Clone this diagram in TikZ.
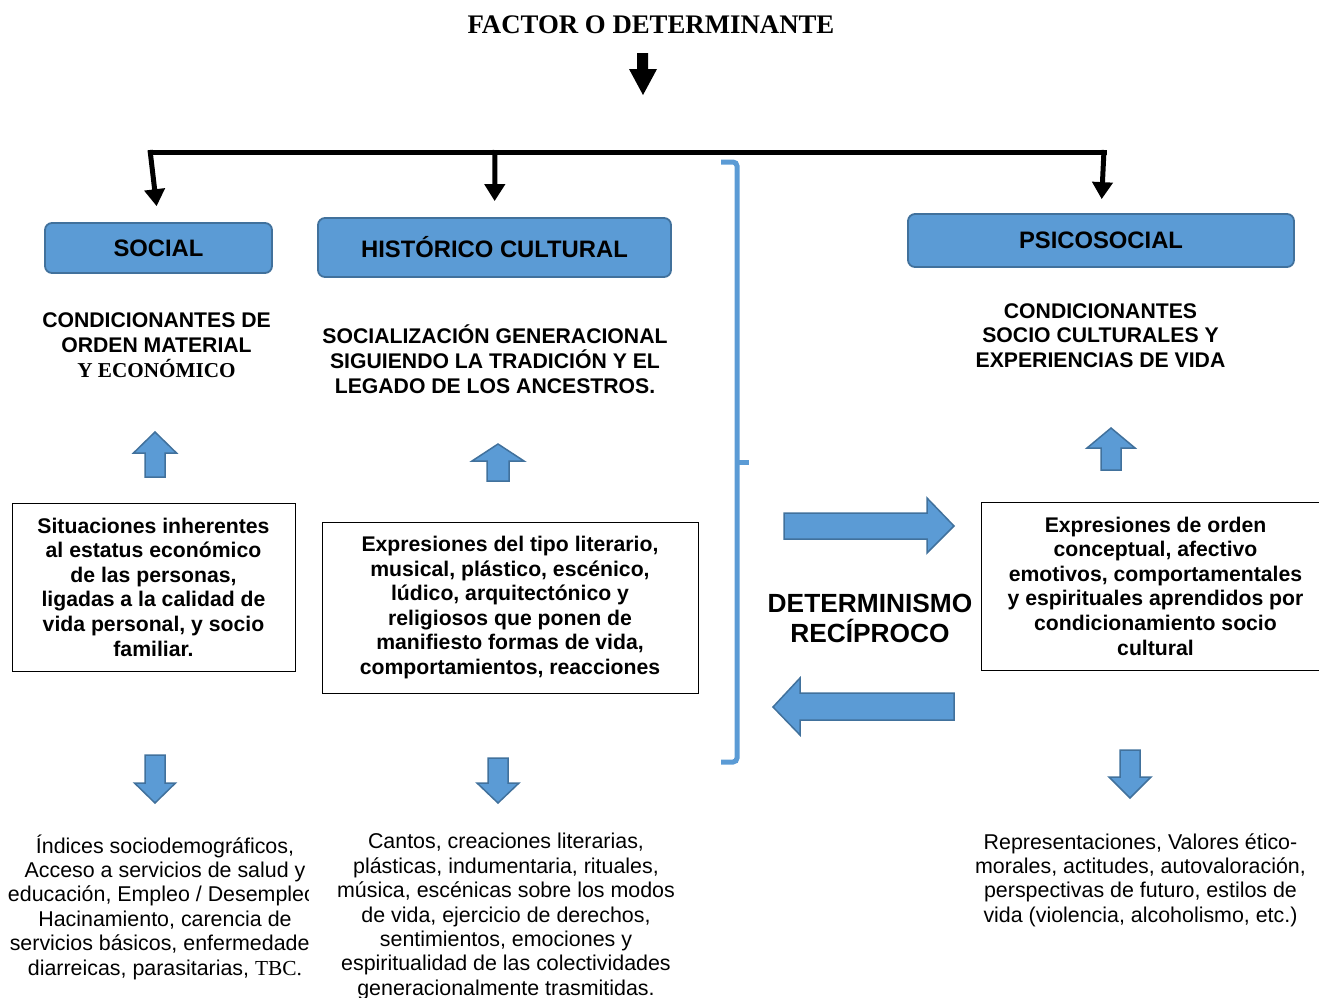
\documentclass[tikz,border=0pt]{standalone}
\usepackage{fontspec}
\setmainfont{Liberation Sans}
\newfontfamily\tnr{Liberation Serif}
\usetikzlibrary{arrows.meta}
\definecolor{bfill}{HTML}{5B9BD5}
\definecolor{bdraw}{HTML}{41719C}
\newcommand{\upblk}[6]{\path[barrow] (#1,#2) -- ({#1+#4},{#2+#5}) -- ({#1+#6},{#2+#5}) -- ({#1+#6},#3) -- ({#1-#6},#3) -- ({#1-#6},{#2+#5}) -- ({#1-#4},{#2+#5}) -- cycle;}
\newcommand{\downblk}[6]{\path[barrow] (#1,#2) -- ({#1+#4},{#2-#5}) -- ({#1+#6},{#2-#5}) -- ({#1+#6},#3) -- ({#1-#6},#3) -- ({#1-#6},{#2-#5}) -- ({#1-#4},{#2-#5}) -- cycle;}
\begin{document}
\begin{tikzpicture}[x=1pt,y=-1pt,
  headbox/.style={draw=bdraw, fill=bfill, line width=1.8pt, rounded corners=7pt, inner sep=0pt, font=\fontsize{23.8}{28}\selectfont\bfseries},
  subtxt/.style={align=center, inner sep=0pt, font=\fontsize{21.2}{25}\selectfont\bfseries},
  tbox/.style={draw, line width=1pt, align=center, inner sep=0pt, font=\fontsize{21.2}{24.6}\selectfont\bfseries},
  bodytxt/.style={align=center, inner sep=0pt, font=\fontsize{21.4}{24.4}\selectfont},
  barrow/.style={draw=bdraw, fill=bfill, line width=1.5pt, line join=miter},
  tree/.style={line width=5pt, black},
  treearrow/.style={tree, -{Triangle[length=17pt,width=20pt]}},
  bracket/.style={draw=bfill, line width=5pt}
]
\useasboundingbox (0,0) rectangle (1319,997);

% title
\node[inner sep=0pt, font=\tnr\fontsize{26.8}{30}\selectfont\bfseries] (title) at (651,25) {FACTOR O DETERMINANTE};
\path[fill=black] (637,53) -- (648,53) -- (648,69) -- (657,69) -- (643,95) -- (629,69) -- (637,69) -- cycle;

% headers
\node[headbox, minimum width=227pt, minimum height=50pt] (social) at (158.5,248) {\raisebox{-1.5pt}{SOCIAL}};
\node[headbox, minimum width=353pt, minimum height=59pt] (hist) at (494.5,247.5) {HISTÓRICO CULTURAL};
\node[headbox, minimum width=386pt, minimum height=53pt] (psico) at (1101,240.5) {PSICOSOCIAL};

% tree
\coordinate (jl) at (148,152);
\coordinate (jr) at (1106.5,152);
\coordinate (l1) at (150,150);
\coordinate (l2) at (495,150);
\coordinate (l3) at (1104,150);
\draw[tree] (jl) -- (jr);
\draw[treearrow, shorten >=16pt] (l1) -- (social.north);
\draw[treearrow, shorten >=16pt] (l2) -- (hist.north);
\draw[treearrow, shorten >=14pt] (l3) -- (psico.north);

% subtitles
\node[subtxt] (s1) at (156.5,345) {CONDICIONANTES DE\\ORDEN MATERIAL\\{\tnr Y ECONÓMICO}};
\node[subtxt] (s2) at (495,359) {SOCIALIZACIÓN GENERACIONAL\\SIGUIENDO LA TRADICIÓN Y EL\\LEGADO DE LOS ANCESTROS.};
\node[subtxt, font=\fontsize{21.2}{24.5}\selectfont\bfseries] (s3) at (1100.5,335.5) {CONDICIONANTES\\SOCIO CULTURALES Y\\EXPERIENCIAS DE VIDA};

% up arrows
\upblk{155}{432}{477}{21.5}{21}{10}
\upblk{498}{444}{481}{26}{17}{11}
\upblk{1111}{428}{470}{24}{20}{10}

% text boxes
\node[tbox, minimum width=283pt, minimum height=168pt] (b1) at (153.5,587) {Situaciones inherentes\\al estatus económico\\de las personas,\\ligadas a la calidad de\\vida personal, y socio\\familiar.};
\node[tbox, minimum width=376pt, minimum height=171pt] (b2) at (510,607.5) {Expresiones del tipo literario,\\musical, plástico, escénico,\\lúdico, arquitectónico y\\religiosos que ponen de\\manifiesto formas de vida,\\comportamientos, reacciones};
\node[tbox, minimum width=349pt, minimum height=168pt] (b3) at (1155.5,586) {Expresiones de orden\\conceptual, afectivo\\emotivos, comportamentales\\y espirituales aprendidos por\\condicionamiento socio\\cultural};

% down arrows
\downblk{155}{803}{755}{20.5}{20}{10}
\downblk{498}{803}{758}{21}{20}{10}
\downblk{1130}{798}{750}{21}{21}{10}

% bracket
\draw[bracket, rounded corners=4pt] (721,162) -- (737,162) -- (737,762) -- (721,762);
\draw[bracket] (737,462) -- (749,462);

% reciprocal arrows
\path[barrow] (954,526) -- (927,498) -- (927,513) -- (784,513) -- (784,539) -- (927,539) -- (927,553) -- cycle;
\path[barrow] (773,707) -- (800,678) -- (800,693) -- (954,693) -- (954,720) -- (800,720) -- (800,735) -- cycle;
\node[align=center, inner sep=0pt, font=\fontsize{26.3}{30}\selectfont\bfseries] (det) at (870,618) {DETERMINISMO\\RECÍPROCO};

% bottom texts
\begin{scope}
\clip (0,800) rectangle (308,997);
\node[bodytxt] (t1) at (165,907) {Índices sociodemográficos,\\Acceso a servicios de salud y\\educación, Empleo / Desempleo,\\Hacinamiento, carencia de\\servicios básicos, enfermedades\\diarreicas, parasitarias, {\tnr TBC.}};
\end{scope}
\node[bodytxt] (t2) at (506,916.5) {Cantos, creaciones literarias,\\plásticas, indumentaria, rituales,\\música, escénicas sobre los modos\\de vida, ejercicio de derechos,\\sentimientos, emociones y\\espiritualidad de las colectividades\\generacionalmente trasmitidas.};
\node[bodytxt] (t3) at (1140.5,880) {Representaciones, Valores ético-\\morales, actitudes, autovaloración,\\perspectivas de futuro, estilos de\\vida (violencia, alcoholismo, etc.)};
\end{tikzpicture}
\end{document}
